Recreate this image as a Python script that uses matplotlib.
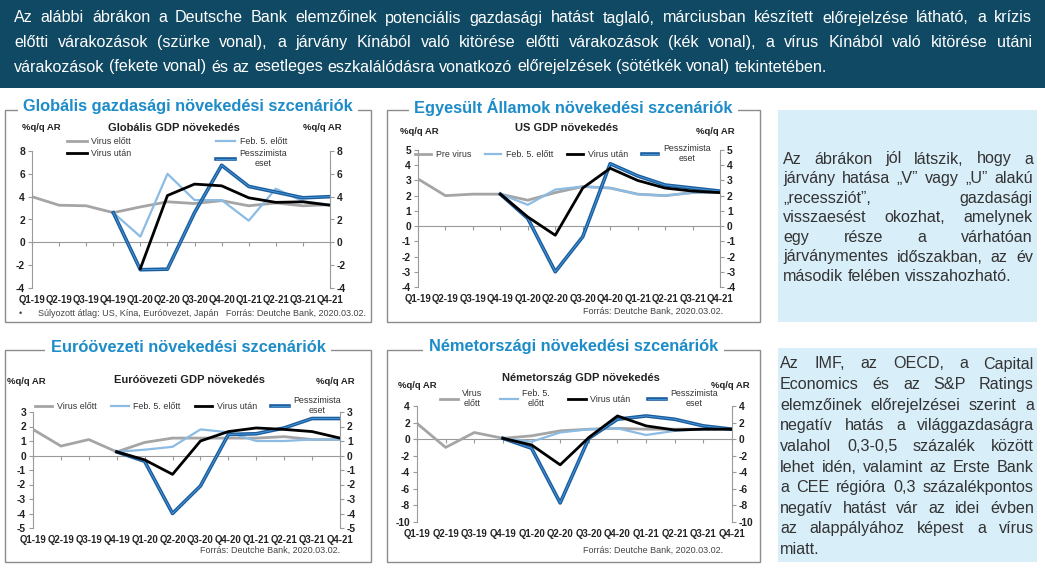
import numpy as np
import matplotlib.pyplot as plt
from matplotlib.patches import Rectangle
from matplotlib.font_manager import FontProperties

W, H = 1045, 568
nan = np.nan

# negyedévek (x tengely)
quarters = ['Q1-19', 'Q2-19', 'Q3-19', 'Q4-19', 'Q1-20', 'Q2-20',
            'Q3-20', 'Q4-20', 'Q1-21', 'Q2-21', 'Q3-21', 'Q4-21']

# Globális GDP növekedés
glob_elott = [4.0, 3.25, 3.2, 2.6, 3.1, 3.55, 3.4, 3.65, 3.2, 3.45, 3.2, 3.3]
glob_feb5 = [nan, nan, nan, 2.6, 0.5, 6.0, 3.7, 3.7, 1.9, 4.7, 3.6, 3.3]
glob_utan = [nan, nan, nan, nan, -2.3, 4.1, 5.1, 4.95, 3.9, 3.5, 3.55, 3.25]
glob_pessz = [nan, nan, nan, 2.6, -2.4, -2.35, 2.6, 6.75, 4.9, 4.4, 3.9, 4.0]

# US GDP növekedés
us_elott = [3.1, 2.0, 2.1, 2.1, 1.7, 2.2, 2.6, 2.5, 2.1, 2.0, 2.2, 2.2]
us_feb5 = [nan, nan, nan, 2.1, 1.4, 2.4, 2.6, 2.5, 2.1, 2.0, 2.2, 2.2]
us_utan = [nan, nan, nan, 2.1, 0.6, -0.6, 2.5, 3.8, 3.0, 2.5, 2.3, 2.2]
us_pessz = [nan, nan, nan, 2.1, 0.5, -3.0, -0.7, 4.1, 3.3, 2.7, 2.5, 2.3]

# Euróövezeti GDP növekedés
eu_elott = [1.8, 0.65, 1.1, 0.25, 0.9, 1.2, 1.2, 1.2, 1.2, 1.3, 1.1, 1.1]
eu_feb5 = [nan, nan, nan, 0.25, 0.4, 0.6, 1.8, 1.6, 1.0, 1.0, 1.1, 1.1]
eu_utan = [nan, nan, nan, 0.25, -0.3, -1.3, 1.0, 1.65, 1.9, 1.8, 1.65, 1.2]
eu_pessz = [nan, nan, nan, 0.25, -0.4, -4.0, -2.1, 1.45, 1.5, 1.9, 2.55, 2.55]

# Németország GDP növekedés
de_elott = [1.9, -1.0, 0.8, 0.1, 0.4, 1.0, 1.2, 1.3, 1.2, 1.2, 1.2, 1.2]
de_feb5 = [nan, nan, nan, 0.1, -0.3, 0.8, 1.2, 1.3, 0.5, 1.0, 1.2, 1.2]
de_utan = [nan, nan, nan, 0.1, -0.7, -3.1, 0.2, 2.8, 1.6, 1.1, 1.2, 1.2]
de_pessz = [nan, nan, nan, 0.1, -1.1, -7.7, 0.1, 2.4, 2.8, 2.4, 1.6, 1.2]

header_lines = [
    'Az alábbi ábrákon a Deutsche Bank elemzőinek potenciális gazdasági hatást taglaló, márciusban készített előrejelzése látható, a krízis',
    'előtti várakozások (szürke vonal), a járvány Kínából való kitörése előtti várakozások (kék vonal), a vírus Kínából való kitörése utáni',
    'várakozások (fekete vonal) és az esetleges eszkalálódásra vonatkozó előrejelzések (sötétkék vonal) tekintetében.',
]
box1_lines = [
    'Az ábrákon jól látszik, hogy a',
    'járvány hatása „V” vagy „U” alakú',
    '„recessziót”, gazdasági',
    'visszaesést okozhat, amelynek',
    'egy része a várhatóan',
    'járványmentes időszakban, az év',
    'második felében visszahozható.',
]
box2_lines = [
    'Az IMF, az OECD, a Capital',
    'Economics és az S&P Ratings',
    'elemzőinek előrejelzései szerint a',
    'negatív hatás a világgazdaságra',
    'valahol 0,3-0,5 százalék között',
    'lehet idén, valamint az Erste Bank',
    'a CEE régióra 0,3 százalékpontos',
    'negatív hatást vár az idei évben',
    'az alappályához képest a vírus',
    'miatt.',
]

plt.rcParams['font.family'] = ['Liberation Sans', 'DejaVu Sans']
plt.rcParams['axes.unicode_minus'] = False  # sima kötőjel a negatív számoknál

fig = plt.figure(figsize=(W / 100, H / 100), dpi=100)
renderer = fig.canvas.get_renderer()

TITLE_BLUE = '#1d8cc8'
GRAY = '#a5a5a5'
LIGHT = '#8cbbe3'
DARK = '#1b5c9c'
AXIS = '#9a9a9a'


def fx(x):
    return x / W


def fy(y):
    return 1 - y / H


def add_rect(x0, y0, x1, y1, **kw):
    fig.patches.append(Rectangle((fx(x0), fy(y1)), (x1 - x0) / W, (y1 - y0) / H,
                                 transform=fig.transFigure, **kw))


# sorkizárt szöveg: a szavak helyét a teljes sor mérésével számoljuk
def justify(lines, x0, x1, y0, dy, size, color):
    fp = FontProperties(family=['Liberation Sans', 'DejaVu Sans'], size=size)

    def width(s):
        return renderer.get_text_width_height_descent(s, fp, ismath=False)[0]

    for i, line in enumerate(lines):
        words = line.split(' ')
        y = fy(y0 + i * dy)
        if i == len(lines) - 1 or len(words) == 1:
            extra = 0
        else:
            extra = (x1 - x0 - width(line)) / (len(words) - 1)
        for k, w in enumerate(words):
            start = width(' '.join(words[:k + 1])) - width(w)
            fig.text(fx(x0 + start + k * extra), y, w, fontproperties=fp, color=color, va='center', ha='left')


def draw_chart(box, ylim, yticks, elott, feb5, utan, pessz):
    l, t, r, b = box
    ax = fig.add_axes([fx(l), fy(b), (r - l) / W, (b - t) / H])
    ax.patch.set_alpha(0)
    x = np.arange(len(quarters))
    ax.axhline(0, color=AXIS, lw=0.8, zorder=1)
    ax.plot(x, np.zeros(len(x)), ls='none', marker=3, ms=3, mew=0.8, color=AXIS, clip_on=False)
    h1, = ax.plot(x, elott, color=GRAY, lw=2, zorder=2)
    h2, = ax.plot(x, feb5, color=LIGHT, lw=1.6, zorder=3)
    h4, = ax.plot(x, pessz, color=DARK, lw=2.6, zorder=4)
    h4b, = ax.plot(x, pessz, color='#4b9ddf', lw=0.6, zorder=4)
    h3, = ax.plot(x, utan, color='black', lw=2, zorder=5)
    ax.set_xlim(0, len(x) - 1)
    ax.set_ylim(*ylim)
    ax.set_yticks(yticks)
    ax.set_xticks(x, quarters)
    for s in ['top', 'bottom', 'right']:
        ax.spines[s].set_visible(False)
    ax.spines['left'].set_color(AXIS)
    ax.tick_params(axis='x', length=0, pad=5, labelsize=6.9)
    ax.tick_params(axis='y', length=3, color=AXIS, pad=2, labelsize=7.4)
    for lab in ax.get_xticklabels() + ax.get_yticklabels():
        lab.set_fontweight('bold')
        lab.set_color('#222222')
    ax2 = ax.twinx()
    ax2.set_ylim(*ylim)
    ax2.set_yticks(yticks)
    for s in ['top', 'bottom', 'left']:
        ax2.spines[s].set_visible(False)
    ax2.spines['right'].set_color(AXIS)
    ax2.tick_params(axis='y', length=3, color=AXIS, pad=2, labelsize=7.4)
    for lab in ax2.get_yticklabels():
        lab.set_fontweight('bold')
        lab.set_color('#222222')
    return h1, h2, h3, (h4, h4b)


def panel_frame(x0, y0, x1, y1, title):
    add_rect(x0, y0, x1, y1, fill=False, ec='#8c8c8c', lw=1)
    fig.text(fx((x0 + x1) / 2), fy(y0 - 3), title, ha='center', va='center', fontsize=11.8,
             fontweight='bold', color=TITLE_BLUE, bbox=dict(fc='white', ec='none', pad=4))


def chart_texts(sub, sub_x, sub_y, ul, ur, uy):
    fig.text(fx(sub_x), fy(sub_y), sub, ha='center', va='center', fontsize=8, fontweight='bold', color='#222222')
    fig.text(fx(ul), fy(uy), '%q/q AR', ha='left', va='center', fontsize=6.8, fontweight='bold', color='#222222')
    fig.text(fx(ur), fy(uy), '%q/q AR', ha='right', va='center', fontsize=6.8, fontweight='bold', color='#222222')


def legend(handles, labels, x, y, loc, ncol, colsp, hl=2.2):
    leg = fig.legend(handles, labels, loc=loc, bbox_to_anchor=(fx(x), fy(y)), ncol=ncol, frameon=False,
                     fontsize=6.4, handlelength=hl, handletextpad=0.5, columnspacing=colsp,
                     borderaxespad=0, borderpad=0, labelspacing=0.3)
    for t in leg.get_texts():
        t.set_multialignment('center')
        t.set_color('#333333')
    return leg


# fejléc
add_rect(0, 0, W, 88, fc='#0f4963', ec='none')
justify(header_lines, 14, 1032, 18, 24.5, 11.6, 'white')

# jobb oldali szövegdobozok
add_rect(778, 110, 1037, 322, fc='#d8eef9', ec='none')
justify(box1_lines, 783, 1033, 159, 19.6, 11.6, '#333333')
add_rect(778, 348, 1037, 562, fc='#d8eef9', ec='none')
justify(box2_lines, 780, 1034, 364, 20.6, 11.6, '#333333')

# 1. Globális
panel_frame(5, 110, 371, 322, 'Globális gazdasági növekedési szcenáriók')
hs = draw_chart((32, 151, 330, 288), (-4, 8), np.arange(-4, 9, 2), glob_elott, glob_feb5, glob_utan, glob_pessz)
chart_texts('Globális GDP növekedés', 174, 128, 22, 342, 128)
legend([hs[0], hs[2], hs[1], hs[3]], ['Virus előtt', 'Virus után', 'Feb. 5. előtt', 'Pesszimista\neset'],
       67, 137, 'upper left', 2, 9.5)
fig.text(fx(19), fy(314), '•', ha='left', va='center', fontsize=6.5, color='#444444')
fig.text(fx(38), fy(314), 'Súlyozott átlag: US, Kína, Euróövezet, Japán   Forrás: Deutche Bank, 2020.03.02.',
         ha='left', va='center', fontsize=6.5, color='#444444')

# 2. US
panel_frame(387, 110, 760, 322, 'Egyesült Államok növekedési szcenáriók')
hs = draw_chart((418, 150, 720, 287), (-4, 5), np.arange(-4, 6, 1), us_elott, us_feb5, us_utan, us_pessz)
chart_texts('US GDP növekedés', 567, 128, 400, 735, 132)
legend(list(hs), ['Pre virus', 'Feb. 5. előtt', 'Virus után', 'Pesszimista\neset'],
       563, 144, 'upper center', 4, 1.6, hl=1.8)
fig.text(fx(723), fy(311), 'Forrás: Deutche Bank, 2020.03.02.', ha='right', va='center', fontsize=6.5, color='#444444')

# 3. Euróövezet
panel_frame(5, 350, 371, 562, 'Euróövezeti növekedési szcenáriók')
hs = draw_chart((33, 412, 340, 528), (-5, 3), np.arange(-5, 4, 1), eu_elott, eu_feb5, eu_utan, eu_pessz)
chart_texts('Euróövezeti GDP növekedés', 189, 380, 7, 355, 382)
legend(list(hs), ['Virus előtt', 'Feb. 5. előtt', 'Virus után', 'Pesszimista\neset'],
       188, 396, 'upper center', 4, 1.6, hl=2.0)
fig.text(fx(340), fy(550), 'Forrás: Deutche Bank, 2020.03.02.', ha='right', va='center', fontsize=6.5, color='#444444')

# 4. Németország
panel_frame(387, 350, 760, 562, 'Németországi növekedési szcenáriók')
hs = draw_chart((417, 406, 732, 522), (-10, 4), np.arange(-10, 5, 2), de_elott, de_feb5, de_utan, de_pessz)
chart_texts('Németország GDP növekedés', 581, 378, 398, 750, 386)
legend(list(hs), ['Virus\nelőtt', 'Feb. 5.\nelőtt', 'Virus után', 'Pesszimista\neset'],
       579, 389, 'upper center', 4, 2.0, hl=2.0)
fig.text(fx(723), fy(550), 'Forrás: Deutche Bank, 2020.03.02.', ha='right', va='center', fontsize=6.5, color='#444444')

fig.savefig('out.png', dpi=100)
